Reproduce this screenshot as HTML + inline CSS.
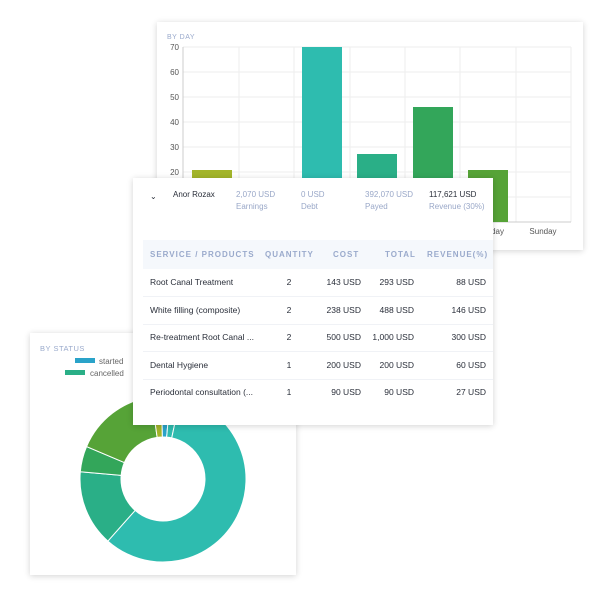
<!DOCTYPE html>
<html><head><style>
body{margin:0;width:600px;height:600px;background:#fff;position:relative;overflow:hidden;font-family:"Liberation Sans",sans-serif}
.card{position:absolute;background:#fff;box-shadow:0 1px 6px rgba(0,0,0,0.18)}
.t{position:absolute;font-size:8.5px;color:#2a2f3a;white-space:nowrap}
.m{color:#9aa8c8}
.h{position:absolute;font-size:8px;font-weight:bold;color:#9aaacc;letter-spacing:1px;white-space:nowrap}
</style></head><body>
<div class="card" style="left:157px;top:22px;width:426px;height:228px">
<svg width="426" height="228" style="position:absolute;left:0;top:0">
<text x="10" y="17" font-size="7" fill="#9aaacc" letter-spacing="0.5">BY DAY</text>
<g stroke="#eeeeee" stroke-width="1">
<line x1="26" y1="25" x2="414" y2="25"/><line x1="26" y1="50" x2="414" y2="50"/><line x1="26" y1="75" x2="414" y2="75"/><line x1="26" y1="100" x2="414" y2="100"/><line x1="26" y1="125" x2="414" y2="125"/><line x1="26" y1="150" x2="414" y2="150"/><line x1="26" y1="175" x2="414" y2="175"/>
<line x1="82" y1="25" x2="82" y2="200"/><line x1="137" y1="25" x2="137" y2="200"/><line x1="193" y1="25" x2="193" y2="200"/><line x1="248" y1="25" x2="248" y2="200"/><line x1="303" y1="25" x2="303" y2="200"/><line x1="359" y1="25" x2="359" y2="200"/><line x1="414" y1="25" x2="414" y2="200"/>
</g>
<line x1="26" y1="25" x2="26" y2="200" stroke="#ccc"/><line x1="26" y1="200" x2="414" y2="200" stroke="#ccc"/>
<g font-size="8" fill="#555" text-anchor="end">
<text x="22" y="28">70</text><text x="22" y="53">60</text><text x="22" y="78">50</text><text x="22" y="103">40</text><text x="22" y="128">30</text><text x="22" y="153">20</text>
</g>
<rect x="35" y="148" width="40" height="52" fill="#a3b52a"/>
<rect x="145" y="25" width="40" height="175" fill="#2ebcaf"/>
<rect x="200" y="132" width="40" height="68" fill="#2aaf87"/>
<rect x="256" y="85" width="40" height="115" fill="#33a65a"/>
<rect x="311" y="148" width="40" height="52" fill="#56a337"/>
<text x="386" y="212" font-size="8" fill="#555" text-anchor="middle">Sunday</text>
<text x="331" y="212" font-size="8" fill="#555" text-anchor="middle">Saturday</text>
</svg></div>

<div class="card" style="left:30px;top:333px;width:266px;height:242px">
<svg width="266" height="242" style="position:absolute;left:0;top:0">
<text x="10" y="18" font-size="7.5" fill="#9aaacc" letter-spacing="0.5">BY STATUS</text>
<rect x="45" y="25" width="20" height="5" fill="#2aa3c9"/><text x="69" y="31" font-size="8" fill="#666">started</text>
<rect x="35" y="37" width="20" height="5" fill="#2aaf87"/><text x="60" y="43" font-size="8" fill="#666">cancelled</text>
<g transform="translate(133,146)" stroke="#fff" stroke-width="1">
<path id="p" d=""/>
</g>
</svg></div>

<div class="card" style="left:133px;top:178px;width:360px;height:247px">
<div class="t" style="left:17px;top:14px;font-size:8px">⌄</div>
<div class="t" style="left:40px;top:12px;font-size:8px">Anor Rozax</div>
<div class="t m" style="left:103px;top:12px;font-size:8px">2,070 USD</div><div class="t m" style="left:103px;top:24px;font-size:8px">Earnings</div>
<div class="t m" style="left:168px;top:12px;font-size:8px">0 USD</div><div class="t m" style="left:168px;top:24px;font-size:8px">Debt</div>
<div class="t m" style="left:232px;top:12px;font-size:8px">392,070 USD</div><div class="t m" style="left:232px;top:24px;font-size:8px">Payed</div>
<div class="t" style="left:296px;top:12px;font-size:8px">117,621 USD</div><div class="t m" style="left:296px;top:24px;font-size:8px">Revenue (30%)</div>
<div style="position:absolute;left:10px;top:62px;width:350px;height:29px;background:#f5f8fc"></div>
<div class="h" style="left:17px;top:72px">SERVICE / PRODUCTS</div>
<div class="h" style="left:132px;top:72px">QUANTITY</div>
<div class="h" style="left:200px;top:72px">COST</div>
<div class="h" style="left:252px;top:72px">TOTAL</div>
<div class="h" style="left:294px;top:72px">REVENUE(%)</div>
<div style="position:absolute;left:10px;top:118px;width:350px;border-top:1px solid #f0f2f6"></div>
<div style="position:absolute;left:10px;top:146px;width:350px;border-top:1px solid #f0f2f6"></div>
<div style="position:absolute;left:10px;top:173px;width:350px;border-top:1px solid #f0f2f6"></div>
<div style="position:absolute;left:10px;top:201px;width:350px;border-top:1px solid #f0f2f6"></div>
<div id="rows"></div>
</div>
<script>
var R=[["Root Canal Treatment","2","143 USD","293 USD","88 USD"],["White filling (composite)","2","238 USD","488 USD","146 USD"],["Re-treatment Root Canal ...","2","500 USD","1,000 USD","300 USD"],["Dental Hygiene","1","200 USD","200 USD","60 USD"],["Periodontal consultation (...","1","90 USD","90 USD","27 USD"]];
var h="";R.forEach(function(r,i){var y=99+i*27.5;
h+='<div class="t" style="left:17px;top:'+y+'px">'+r[0]+'</div>';
h+='<div class="t" style="left:150px;top:'+y+'px;width:12px;text-align:center">'+r[1]+'</div>';
h+='<div class="t" style="left:170px;top:'+y+'px;width:58px;text-align:right">'+r[2]+'</div>';
h+='<div class="t" style="left:220px;top:'+y+'px;width:61px;text-align:right">'+r[3]+'</div>';
h+='<div class="t" style="left:290px;top:'+y+'px;width:63px;text-align:right">'+r[4]+'</div>';});
document.getElementById("rows").innerHTML=h;
var S=[[-1,5,"#2aa3c9"],[5,12,"#2ebcaf"],[12,221.6,"#2ebcaf"],[221.6,275,"#2aaf87"],[275,293,"#33a65a"],[293,352,"#56a337"],[352,359,"#a3b52a"]];
var g=document.getElementById("p").parentNode,ro=83,ri=42;
function pt(a,r){a=a*Math.PI/180;return [r*Math.sin(a),-r*Math.cos(a)];}
S.forEach(function(s){var a=pt(s[0],ro),b=pt(s[1],ro),c=pt(s[1],ri),d=pt(s[0],ri),l=(s[1]-s[0])>180?1:0;
var p=document.createElementNS("http://www.w3.org/2000/svg","path");
p.setAttribute("d","M"+a+"A"+ro+","+ro+" 0 "+l+" 1 "+b+"L"+c+"A"+ri+","+ri+" 0 "+l+" 0 "+d+"Z");
p.setAttribute("fill",s[2]);g.appendChild(p);});
</script>
</body></html>
